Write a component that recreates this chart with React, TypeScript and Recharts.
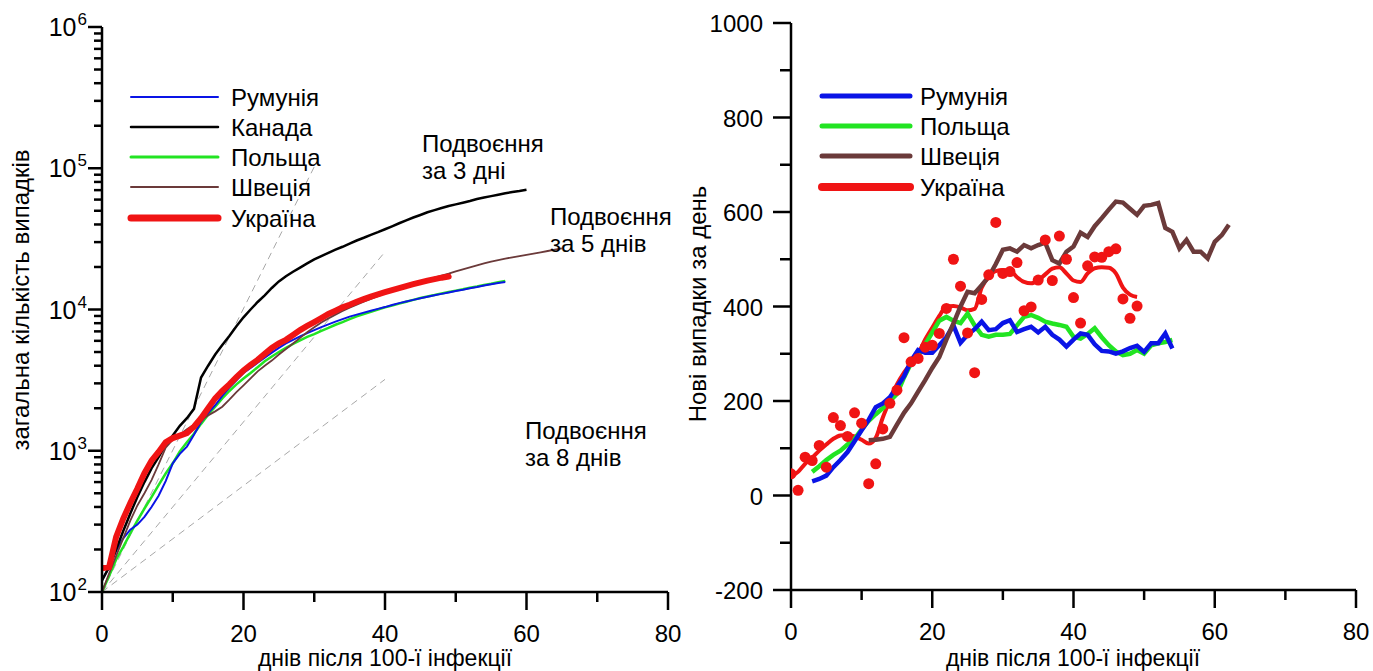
import { LineChart, Line, XAxis, YAxis } from 'recharts'

const FONT = 'Arial, "Liberation Sans", sans-serif'

// ---------- left panel: cumulative cases, log scale (day 0 = 100th case) ----------
const roCum = [121, 150, 195, 240, 276, 300, 340, 400, 480, 610, 815, 950, 1070, 1300, 1600, 1850, 2100, 2450, 2800, 3150, 3550, 3850, 4200, 4550, 4950, 5350, 5750, 6100, 6450, 6800, 7150, 7500, 7850, 8200, 8550, 8900, 9200, 9500, 9800, 10100, 10400, 10750, 11100, 11400, 11700, 12000, 12300, 12600, 12900, 13200, 13500, 13800, 14150, 14450, 14800, 15100, 15400, 15650]
const caCum = [121, 150, 200, 270, 360, 470, 600, 750, 900, 1100, 1280, 1500, 1700, 1980, 3300, 4000, 4800, 5600, 6500, 7600, 8800, 10000, 11300, 12600, 14200, 15800, 17200, 18500, 19800, 21200, 22600, 23900, 25200, 26500, 27800, 29300, 30800, 32200, 33800, 35300, 37000, 38800, 40800, 42800, 44800, 46700, 48800, 50500, 52300, 54000, 55500, 57000, 58600, 60500, 62000, 63500, 65000, 66500, 67800, 69000, 70500]
const plCum = [100, 130, 170, 209, 260, 320, 390, 470, 570, 690, 815, 990, 1150, 1320, 1550, 1800, 2050, 2350, 2650, 2950, 3250, 3550, 3900, 4300, 4650, 5000, 5350, 5700, 6050, 6400, 6700, 7050, 7400, 7800, 8150, 8550, 8950, 9300, 9650, 10000, 10350, 10650, 11000, 11350, 11700, 12050, 12350, 12650, 13000, 13300, 13600, 13900, 14250, 14550, 14900, 15200, 15600, 15950]
const seCum = [100, 135, 180, 240, 320, 410, 500, 620, 800, 1050, 1200, 1300, 1420, 1530, 1650, 1780, 1900, 2050, 2300, 2600, 2900, 3250, 3650, 4000, 4350, 4800, 5250, 5750, 6300, 6900, 7500, 8100, 8650, 9200, 9750, 10300, 10800, 11350, 11900, 12450, 13000, 13550, 14100, 14650, 15200, 15750, 16300, 16850, 17400, 17950, 18600, 19250, 19900, 20550, 21200, 21850, 22400, 22900, 23400, 23900, 24400, 24900, 25400, 25950, 26500, 27100]
const uaCum = [147, 150, 246, 330, 427, 540, 694, 850, 980, 1150, 1230, 1280, 1334, 1480, 1700, 2000, 2350, 2650, 2950, 3320, 3700, 4050, 4400, 4850, 5350, 5750, 6100, 6600, 7150, 7650, 8150, 8700, 9300, 9800, 10350, 10800, 11350, 11850, 12350, 12800, 13250, 13700, 14150, 14650, 15100, 15550, 16000, 16400, 16800, 17100]

// doubling guide lines: [start, end]
const dbl3Days = [0, 30]
const dbl3Vals = [100, 102400]
const dbl5Days = [0, 40]
const dbl5Vals = [100, 25600]
const dbl8Days = [0, 40]
const dbl8Vals = [100, 3200]

// ---------- right panel: new cases per day ----------
const uaDaily = [46, 11, 81, 74, 106, 60, 165, 148, 125, 175, 153, 25, 67, 141, 195, 223, 334, 283, 290, 314, 318, 343, 396, 500, 443, 344, 260, 415, 467, 578, 470, 474, 493, 391, 399, 456, 541, 455, 549, 500, 419, 365, 486, 505, 504, 516, 522, 416, 375, 401]
const uaAvg = [40, 50, 67, 80, 95, 108, 120, 127, 128, 125, 118, 110, 122, 165, 201, 235, 260, 280, 300, 330, 355, 380, 400, 401, 398, 392, 395, 440, 463, 475, 477, 476, 462, 452, 449, 455, 468, 480, 483, 470, 455, 452, 470, 481, 483, 482, 470, 440, 425, 420]
const roDaily = [30, 35, 42, 60, 75, 92, 115, 138, 160, 187, 195, 208, 230, 252, 285, 308, 302, 302, 318, 335, 360, 323, 340, 352, 368, 350, 352, 365, 371, 346, 352, 357, 345, 357, 340, 330, 315, 330, 343, 340, 320, 306, 305, 300, 305, 312, 317, 304, 322, 322, 343, 311]
const plDaily = [50, 62, 75, 86, 95, 108, 120, 140, 158, 172, 185, 200, 215, 250, 280, 297, 320, 345, 370, 378, 370, 365, 385, 360, 340, 336, 340, 340, 342, 360, 378, 382, 376, 368, 364, 361, 357, 336, 332, 342, 354, 335, 318, 305, 297, 300, 308, 300, 318, 322, 325, 329]
const seDaily = [117, 118, 120, 124, 150, 175, 195, 220, 244, 270, 293, 330, 364, 400, 431, 428, 445, 463, 490, 520, 523, 516, 530, 523, 530, 535, 498, 491, 516, 527, 556, 547, 570, 587, 605, 622, 620, 607, 594, 613, 615, 619, 566, 558, 523, 541, 516, 516, 502, 537, 551, 573]
const roStart = 3
const plStart = 3
const seStart = 11

const xTicks = [0, 10, 20, 30, 40, 50, 60, 70, 80]
const decades = [100, 1000, 10000, 100000]
const mults = [1, 2, 3, 4, 5, 6, 7, 8, 9]
const logTicks = [...decades.flatMap(d => mults.map(m => d * m)), 1000000]
const linTicks = [-200, -100, 0, 100, 200, 300, 400, 500, 600, 700, 800, 900, 1000]

const C = {
  ro: '#0a14e6',
  ca: '#000000',
  pl: '#22e422',
  se: '#6b3a3a',
  ua: '#f01414',
  guide: '#a8a8a8',
}

const rows = (start: number, vals: number[]) => vals.map((v, i) => ({ day: start + i, v }))
const pairs = (days: number[], vals: number[]) => days.map((d, i) => ({ day: d, v: vals[i] }))

const FS = 24

const XTick = (p: any) => {
  const { x, y, payload } = p
  const major = payload.value % 20 === 0
  return (
    <g>
      <line x1={x} x2={x} y1={y} y2={y + (major ? 18 : 10)} stroke="#000" strokeWidth={2.5} />
      {major && (
        <text x={x} y={y + 50} textAnchor="middle" fontSize={FS} fontFamily={FONT} fill="#000">
          {payload.value}
        </text>
      )}
    </g>
  )
}

const LogTick = (p: any) => {
  const { x, y, payload } = p
  const lg = Math.log10(payload.value)
  const exp = Math.round(lg)
  const major = Math.abs(lg - exp) < 1e-6
  return (
    <g>
      <line x1={x - (major ? 14 : 8)} x2={x} y1={y} y2={y} stroke="#000" strokeWidth={2.5} />
      {major && (
        <text x={x - 15} y={y + 9} textAnchor="end" fontSize={25} fontFamily={FONT} fill="#000">
          10<tspan dx={1} dy={-11} fontSize={17}>{exp}</tspan>
        </text>
      )}
    </g>
  )
}

const LinTick = (p: any) => {
  const { x, y, payload } = p
  const major = payload.value % 200 === 0
  return (
    <g>
      <line x1={x - (major ? 18 : 11)} x2={x} y1={y} y2={y} stroke="#000" strokeWidth={2.5} />
      {major && (
        <text x={x - 28} y={y + 9} textAnchor="end" fontSize={FS} fontFamily={FONT} fill="#000">
          {payload.value}
        </text>
      )}
    </g>
  )
}

const axisLine = { stroke: '#000', strokeWidth: 2.5 }

const leftLegend = [
  { label: 'Румунія', color: C.ro, w: 2, y: 97 },
  { label: 'Канада', color: C.ca, w: 2.5, y: 127 },
  { label: 'Польща', color: C.pl, w: 3, y: 157 },
  { label: 'Швеція', color: C.se, w: 2, y: 187 },
  { label: 'Україна', color: C.ua, w: 7, y: 218 },
]
const rightLegend = [
  { label: 'Румунія', color: C.ro, w: 5, y: 96 },
  { label: 'Польща', color: C.pl, w: 5, y: 126 },
  { label: 'Швеція', color: C.se, w: 5, y: 156 },
  { label: 'Україна', color: C.ua, w: 8, y: 187 },
]

const notes = [
  { x: 422, y: 152, lines: ['Подвоєння', 'за 3 дні'] },
  { x: 550, y: 225, lines: ['Подвоєння', 'за 5 днів'] },
  { x: 525, y: 439, lines: ['Подвоєння', 'за 8 днів'] },
]

export default function App() {
  return (
    <div style={{ position: 'absolute', left: 0, top: 0, width: 1373, height: 671, background: '#fff', overflow: 'hidden' }}>
      <div style={{ position: 'absolute', left: 0, top: 0 }}>
        <LineChart width={700} height={671} margin={{ top: 27, right: 32, bottom: 0, left: 0 }}>
          <XAxis type="number" dataKey="day" domain={[0, 80]} ticks={xTicks} interval={0} height={79}
            tickSize={0} tickMargin={0} tickLine={false} axisLine={axisLine} tick={XTick} allowDataOverflow />
          <YAxis type="number" dataKey="v" scale="log" domain={[100, 1000000]} ticks={logTicks} interval={0} width={102}
            tickSize={0} tickMargin={0} tickLine={false} axisLine={axisLine} tick={LogTick} allowDataOverflow />
          <Line data={pairs(dbl3Days, dbl3Vals)} dataKey="v" stroke={C.guide} strokeWidth={1} strokeDasharray="7 5" dot={false} isAnimationActive={false} />
          <Line data={pairs(dbl5Days, dbl5Vals)} dataKey="v" stroke={C.guide} strokeWidth={1} strokeDasharray="7 5" dot={false} isAnimationActive={false} />
          <Line data={pairs(dbl8Days, dbl8Vals)} dataKey="v" stroke={C.guide} strokeWidth={1} strokeDasharray="7 5" dot={false} isAnimationActive={false} />
          <Line data={rows(0, plCum)} dataKey="v" stroke={C.pl} strokeWidth={2.5} dot={false} isAnimationActive={false} />
          <Line data={rows(0, roCum)} dataKey="v" stroke={C.ro} strokeWidth={2} dot={false} isAnimationActive={false} />
          <Line data={rows(0, caCum)} dataKey="v" stroke={C.ca} strokeWidth={2.5} dot={false} isAnimationActive={false} />
          <Line data={rows(0, seCum)} dataKey="v" stroke={C.se} strokeWidth={1.8} dot={false} isAnimationActive={false} />
          <Line data={rows(0, uaCum)} dataKey="v" stroke={C.ua} strokeWidth={6} strokeLinecap="round" dot={false} isAnimationActive={false} />
        </LineChart>
      </div>
      <div style={{ position: 'absolute', left: 690, top: 0 }}>
        <LineChart width={683} height={671} margin={{ top: 23, right: 17, bottom: 0, left: 0 }}>
          <XAxis type="number" dataKey="day" domain={[0, 80]} ticks={xTicks} interval={0} height={81}
            tickSize={0} tickMargin={0} tickLine={false} axisLine={axisLine} tick={XTick} allowDataOverflow />
          <YAxis type="number" dataKey="v" domain={[-200, 1000]} ticks={linTicks} interval={0} width={101}
            tickSize={0} tickMargin={0} tickLine={false} axisLine={axisLine} tick={LinTick} allowDataOverflow />
          <Line data={rows(0, uaDaily)} dataKey="v" stroke="none" strokeWidth={0} dot={{ r: 5.5, fill: C.ua, stroke: 'none' }} activeDot={false} isAnimationActive={false} />
          <Line data={rows(0, uaAvg)} dataKey="v" type="monotone" stroke={C.ua} strokeWidth={4} dot={false} isAnimationActive={false} />
          <Line data={rows(plStart, plDaily)} dataKey="v" stroke={C.pl} strokeWidth={4.5} dot={false} isAnimationActive={false} />
          <Line data={rows(roStart, roDaily)} dataKey="v" stroke={C.ro} strokeWidth={4.5} dot={false} isAnimationActive={false} />
          <Line data={rows(seStart, seDaily)} dataKey="v" stroke={C.se} strokeWidth={4.5} dot={false} isAnimationActive={false} />
        </LineChart>
      </div>
      <svg width={1373} height={671} style={{ position: 'absolute', left: 0, top: 0, pointerEvents: 'none' }} fontFamily={FONT} fontSize={FS}>
        {leftLegend.map(l => (
          <g key={'l' + l.label}>
            <line x1={131} x2={218} y1={l.y} y2={l.y} stroke={l.color} strokeWidth={l.w} strokeLinecap="round" />
            <text x={231} y={l.y + 8.5} fill="#000">{l.label}</text>
          </g>
        ))}
        {rightLegend.map(l => (
          <g key={'r' + l.label}>
            <line x1={822} x2={910} y1={l.y} y2={l.y} stroke={l.color} strokeWidth={l.w} strokeLinecap="round" />
            <text x={920} y={l.y + 8.5} fill="#000">{l.label}</text>
          </g>
        ))}
        {notes.map(n => (
          <text key={n.x} x={n.x} y={n.y} fill="#000">
            <tspan x={n.x}>{n.lines[0]}</tspan>
            <tspan x={n.x} dy={27}>{n.lines[1]}</tspan>
          </text>
        ))}
        <text transform="translate(29,300) rotate(-90)" textAnchor="middle" fill="#000">загальна кількість випадків</text>
        <text transform="translate(706,304) rotate(-90)" textAnchor="middle" fill="#000">Нові випадки за день</text>
        <text x={385} y={666} textAnchor="middle" fontSize={23} fill="#000">днів після 100-ї інфекції</text>
        <text x={1073} y={666} textAnchor="middle" fontSize={23} fill="#000">днів після 100-ї інфекції</text>
      </svg>
    </div>
  )
}
